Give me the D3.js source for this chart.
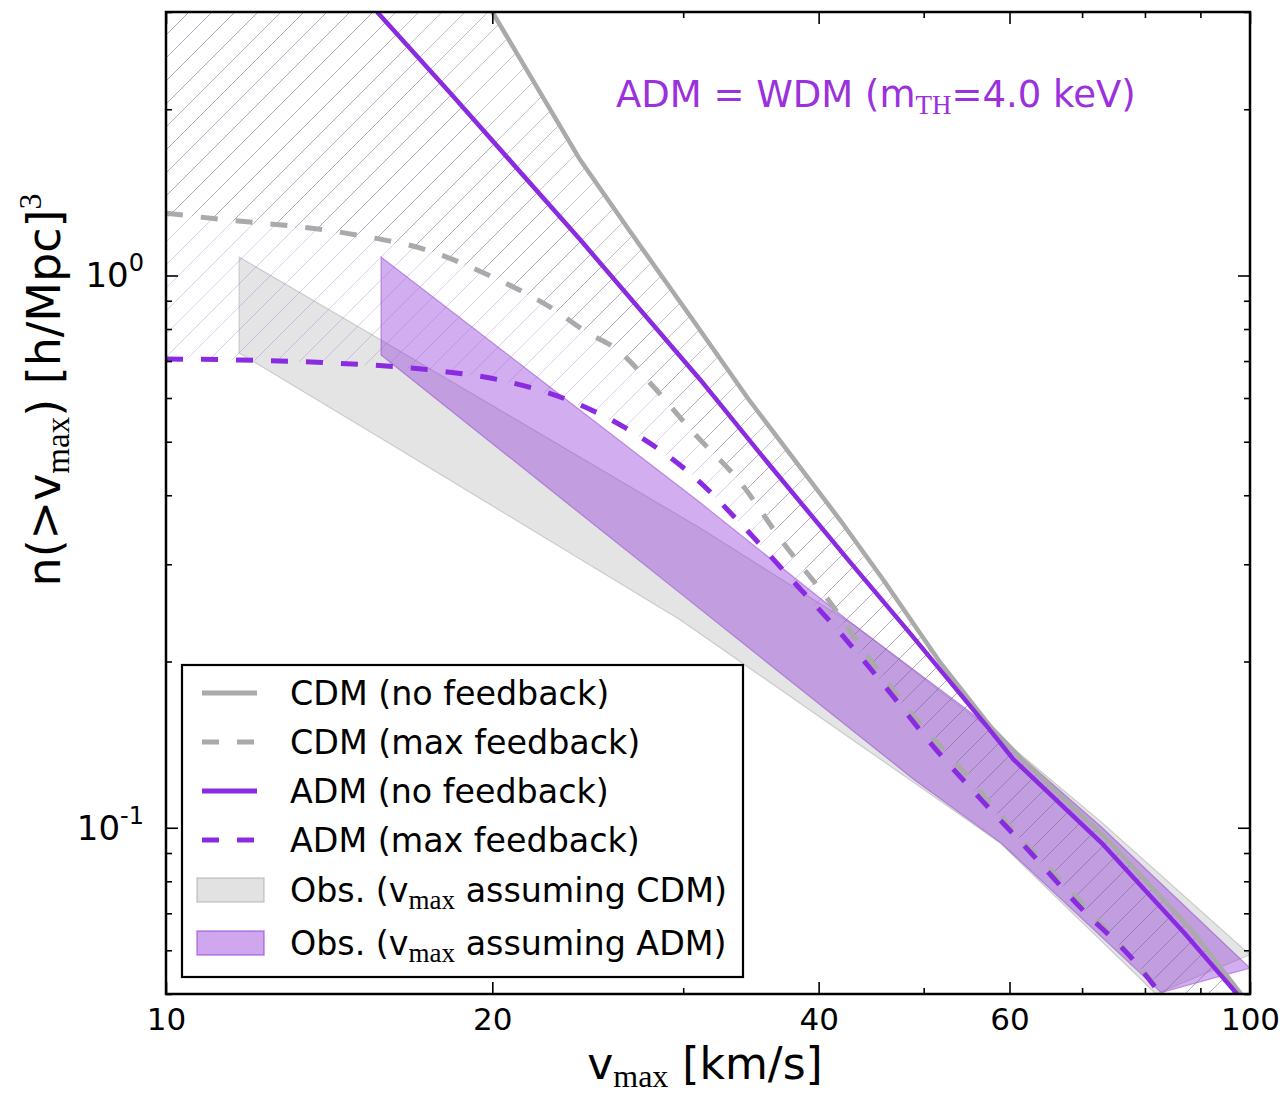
<!DOCTYPE html>
<html><head><meta charset="utf-8">
<script src="https://cdn.jsdelivr.net/npm/d3@7"></script>
<style>body{margin:0;background:#fff}</style>
</head><body>
<svg id="chart" width="1288" height="1098" xmlns="http://www.w3.org/2000/svg"></svg>
<script>
// ---------------- data (v_max [km/s], n(>v_max) [(h/Mpc)^3]) ----------------
const cdmNoFeedback = [[20.0,3.0],[24.1,1.62],[26.65,1.22],[30.5,0.84],[34.4,0.60],[41.9,0.36],[45.9,0.281],[51.8,0.199],[57.7,0.152],[61.6,0.133],[73.6,0.0959],[88.2,0.0655],[98.1,0.050]];
const cdmMaxFeedback = [[10,1.297],[10.75,1.276],[15.0,1.184],[17.4,1.112],[20.0,0.994],[22.6,0.877],[24.5,0.787],[26.1,0.733],[27.8,0.647],[30.5,0.525],[33.9,0.421],[37.1,0.328],[40.8,0.259],[44.7,0.201],[49.0,0.159],[54.5,0.126],[60.2,0.100],[66.8,0.0805],[74.1,0.0646],[83.6,0.0495]];
const admNoFeedback = [[15.66,3.0],[18.29,2.14],[24.12,1.159],[31.12,0.647],[35.9,0.458],[42.8,0.302],[48.3,0.228],[57.3,0.152],[60.5,0.133],[72.9,0.094],[86.9,0.0646],[97.3,0.050]];
const admMaxFeedback = [[10,0.706],[11.7,0.703],[14.3,0.694],[17.6,0.674],[20.3,0.647],[23.5,0.595],[27.0,0.519],[30.7,0.432],[34.1,0.351],[37.8,0.281],[41.9,0.225],[46.3,0.178],[51.1,0.140],[56.6,0.112],[62.8,0.090],[69.8,0.0716],[78.0,0.0577],[83.0,0.0495]];
const obsCdmUpper = [[11.68,1.080],[15.79,0.764],[31.1,0.349],[43.1,0.233],[58.9,0.1455],[72.9,0.1025],[100,0.0589]];
const obsCdmLower = [[11.68,0.724],[16.45,0.483],[29.8,0.238],[49.0,0.1206],[58.9,0.0936],[81.9,0.050]];
const obsAdmUpper = [[15.79,1.080],[31.1,0.388],[42.5,0.238],[55.3,0.1615],[72.9,0.1004],[100,0.0557]];
const obsAdmLower = [[15.79,0.718],[29.8,0.266],[49.0,0.1222],[58.9,0.0939],[82.8,0.0503]];
const xMajorTicks = [10,20,40,60,100];
const xMinorTicks = [30,50,70,80,90];
const yMajorTicks = [0.1,1];
const yMajorLabels = ["-1","0"];
const yMinorTicks = [0.05,0.06,0.07,0.08,0.09,0.2,0.3,0.4,0.5,0.6,0.7,0.8,0.9,2,3];
const legendItems = [
  {label:"CDM (no feedback)", kind:"line", color:"#aaaaaa", dash:null},
  {label:"CDM (max feedback)", kind:"line", color:"#aaaaaa", dash:"17,18"},
  {label:"ADM (no feedback)", kind:"line", color:"#8a2be2", dash:null},
  {label:"ADM (max feedback)", kind:"line", color:"#8a2be2", dash:"17,18"},
  {label:"Obs. (v|max| assuming CDM)", kind:"patch", fill:"rgba(150,150,150,0.28)", stroke:"rgba(150,150,150,0.45)"},
  {label:"Obs. (v|max| assuming ADM)", kind:"patch", fill:"rgba(148,60,220,0.45)", stroke:"rgba(148,60,220,0.6)"}
];

// ---------------- layout ----------------
const X0=166, X1=1250, Y0=12, Y1=994;
const purple="#8a2be2", gray="#aaaaaa";
const sans="'DejaVu Sans', sans-serif", serif="'Liberation Serif','DejaVu Serif', serif";

const svg=d3.select("#chart");
const x=d3.scaleLog().domain([10,100]).range([X0,X1]);
const y=d3.scaleLog().domain([0.05,3]).range([Y1,Y0]);
const line=d3.line().x(d=>x(d[0])).y(d=>y(d[1]));
const smooth=d3.line().x(d=>x(d[0])).y(d=>y(d[1])).curve(d3.curveMonotoneX);

const defs=svg.append("defs");
defs.append("clipPath").attr("id","plotclip").append("rect")
  .attr("x",X0).attr("y",Y0).attr("width",X1-X0).attr("height",Y1-Y0);
function hatch(id,color,sw){
  const p=defs.append("pattern").attr("id",id).attr("patternUnits","userSpaceOnUse")
    .attr("width",23).attr("height",23).attr("x",X0).attr("y",Y0);
  p.append("path").attr("d","M-3,3 L3,-3 M0,23 L23,0 M20,26 L26,20")
    .attr("stroke",color).attr("stroke-width",sw).attr("fill","none");
}
hatch("hatchPurple","rgba(150,90,220,0.30)",1);
hatch("hatchGray","rgba(110,110,110,0.40)",1);

const plot=svg.append("g").attr("clip-path","url(#plotclip)");
const yTop=y.domain()[1], xLeft=x.domain()[0];

// observational bands
plot.append("path").attr("d",line(obsCdmUpper.concat(obsCdmLower.slice().reverse()))+"Z")
  .attr("fill","rgba(150,150,150,0.26)").attr("stroke","rgba(150,150,150,0.4)").attr("stroke-width",1.2);
plot.append("path").attr("d",line(obsAdmUpper.concat(obsAdmLower.slice().reverse()))+"Z")
  .attr("fill","rgba(148,60,220,0.42)").attr("stroke","rgba(130,50,200,0.45)").attr("stroke-width",1.2);

// hatched regions between no-feedback and max-feedback
const admRegion=[[xLeft,yTop]].concat(admNoFeedback, admMaxFeedback.slice().reverse());
const cdmRegion=[[xLeft,yTop]].concat(cdmNoFeedback, cdmMaxFeedback.slice().reverse());
plot.append("path").attr("d",line(admRegion)+"Z").attr("fill","url(#hatchPurple)");
plot.append("path").attr("d",line(cdmRegion)+"Z").attr("fill","url(#hatchGray)");

// curves
function curve(data,color,w,dash,gen){
  const p=plot.append("path").attr("d",gen(data)).attr("fill","none")
    .attr("stroke",color).attr("stroke-width",w).attr("stroke-linejoin","round");
  if(dash) p.attr("stroke-dasharray",dash);
}
curve(cdmNoFeedback,gray,4.5,null,line);
curve(cdmMaxFeedback,gray,5,"17,18",smooth);
curve(admNoFeedback,purple,4.5,null,line);
curve(admMaxFeedback,purple,5,"17,18",smooth);

// ---------------- axes ----------------
function axisGroup(axis,tx,ty){
  const g=svg.append("g").attr("transform",`translate(${tx},${ty})`).call(axis);
  g.select(".domain").remove();
  g.selectAll(".tick line").attr("stroke","#000").attr("stroke-width",1.6);
  return g;
}
const bx=axisGroup(d3.axisBottom(x).tickValues(xMajorTicks).tickSize(-12).tickPadding(14).tickFormat(d3.format("d")),0,Y1);
bx.selectAll(".tick text").attr("font-family",sans).attr("font-size",31).attr("fill","#000");
axisGroup(d3.axisBottom(x).tickValues(xMinorTicks).tickSize(-6).tickFormat(""),0,Y1);
axisGroup(d3.axisTop(x).tickValues(xMajorTicks).tickSize(-12).tickFormat(""),0,Y0);
axisGroup(d3.axisTop(x).tickValues(xMinorTicks).tickSize(-6).tickFormat(""),0,Y0);
axisGroup(d3.axisLeft(y).tickValues(yMajorTicks).tickSize(-12).tickFormat(""),X0,0);
axisGroup(d3.axisLeft(y).tickValues(yMinorTicks).tickSize(-6).tickFormat(""),X0,0);
axisGroup(d3.axisRight(y).tickValues(yMajorTicks).tickSize(-12).tickFormat(""),X1,0);
axisGroup(d3.axisRight(y).tickValues(yMinorTicks).tickSize(-6).tickFormat(""),X1,0);

// y tick labels 10^n
yMajorTicks.forEach((v,i)=>{
  const t=svg.append("text").attr("x",144).attr("y",y(v)+12).attr("text-anchor","end")
    .attr("font-family",sans).attr("font-size",34).attr("fill","#000");
  t.append("tspan").text("10");
  t.append("tspan").attr("dy",-16).attr("font-size",24).text(yMajorLabels[i]);
});

// frame
svg.append("rect").attr("x",X0).attr("y",Y0).attr("width",X1-X0).attr("height",Y1-Y0)
  .attr("fill","none").attr("stroke","#000").attr("stroke-width",2.5);

// axis labels
const xlab=svg.append("text").attr("x",(X0+X1)/2-3).attr("y",1079).attr("text-anchor","middle")
  .attr("font-family",sans).attr("font-size",44).attr("fill","#000");
xlab.append("tspan").text("v");
xlab.append("tspan").attr("font-family",serif).attr("font-size",32).attr("dy",8).text("max");
xlab.append("tspan").attr("dy",-8).text(" [km/s]");

const ylab=svg.append("text").attr("transform","translate(60,390) rotate(-90)").attr("text-anchor","middle")
  .attr("font-family",sans).attr("font-size",46).attr("fill","#000");
ylab.append("tspan").text("n(>v");
ylab.append("tspan").attr("font-family",serif).attr("font-size",33).attr("dy",9).text("max");
ylab.append("tspan").attr("dy",-9).text(") [h/Mpc]");
ylab.append("tspan").attr("font-family",serif).attr("font-size",32).attr("dy",-19).text("3");

// annotation
const ann=svg.append("text").attr("x",616).attr("y",107).attr("font-family",sans).attr("font-size",37).attr("fill","#9b30dd");
ann.append("tspan").text("ADM = WDM (m");
ann.append("tspan").attr("font-family",serif).attr("font-size",27).attr("dy",7).text("TH");
ann.append("tspan").attr("dy",-7).text("=4.0 keV)");

// legend
const lg=svg.append("g");
lg.append("rect").attr("x",182).attr("y",665).attr("width",561).attr("height",312)
  .attr("fill","#fff").attr("stroke","#000").attr("stroke-width",2.2);
const rowY=[693,742,791,840,890,943];
legendItems.forEach((it,i)=>{
  const cy=rowY[i];
  if(it.kind==="line"){
    const l=lg.append("line").attr("x1",202).attr("x2",257).attr("y1",cy).attr("y2",cy)
      .attr("stroke",it.color).attr("stroke-width",5);
    if(it.dash) l.attr("stroke-dasharray",it.dash);
  } else {
    lg.append("rect").attr("x",197).attr("y",cy-12).attr("width",67).attr("height",24)
      .attr("fill",it.fill).attr("stroke",it.stroke).attr("stroke-width",1.5);
  }
  const t=lg.append("text").attr("x",290).attr("y",cy+12).attr("font-family",sans)
    .attr("font-size",33.3).attr("fill","#000");
  const parts=it.label.split("|");
  if(parts.length===1){ t.text(it.label); }
  else {
    t.append("tspan").text(parts[0]);
    t.append("tspan").attr("font-family",serif).attr("font-size",27).attr("dy",7).text(parts[1]);
    t.append("tspan").attr("dy",-7).text(parts[2]);
  }
});
</script>
</body></html>
